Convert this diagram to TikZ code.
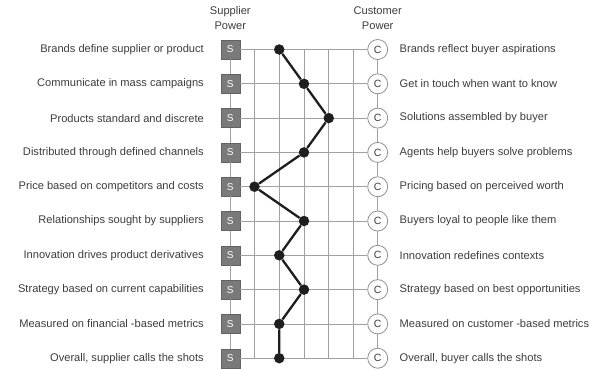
\documentclass[tikz,border=0pt]{standalone}
\usepackage{fontspec}
\setmainfont{Liberation Sans}
\definecolor{txt}{HTML}{3C3C3C}
\definecolor{gridc}{HTML}{A0A0A0}
\definecolor{sbox}{HTML}{7A7A7A}
\definecolor{dotc}{HTML}{1E1E1E}
\begin{document}
\begin{tikzpicture}[x=1pt,y=-1pt,
  lab/.style={inner sep=0pt,text=txt,font=\fontsize{11.1}{13}\selectfont},
  sn/.style={draw=sbox!80!black,fill=sbox,minimum size=19pt,inner sep=0pt,text=white,font=\fontsize{10}{11}\selectfont},
  cn/.style={circle,draw=gridc!90!black,fill=white,minimum size=20pt,inner sep=0pt,text=txt,font=\fontsize{10.5}{11}\selectfont,line width=0.8pt},
  dotn/.style={circle,fill=dotc,minimum size=10.5pt,inner sep=0pt},
  gridl/.style={draw=gridc,line width=0.8pt},
  path/.style={draw=dotc,line width=2.3pt}]
\useasboundingbox (0,0) rectangle (595,368);
\def\rowy#1{49.5+34.3*(#1-1)}
% headers
\node[lab,align=center] (hs) at (230.3,18.5) {Supplier\\[2pt]Power};
\node[lab,align=center] (hc) at (377.7,18.5) {Customer\\[2pt]Power};
% vertical grid lines
\foreach \k in {1,...,5}{
  \coordinate (vt\k) at ({254.5+24.75*(\k-1)},{\rowy{1}});
  \coordinate (vb\k) at ({254.5+24.75*(\k-1)},{\rowy{10}});
  \draw[gridl] (vt\k) -- (vb\k);
}
% S and C nodes
\foreach \i in {1,...,10}{
  \node[sn] (s\i) at (230.3,{\rowy{\i}}) {S};
  \node[cn] (c\i) at (377.7,{\rowy{\i}}) {C};
  \draw[gridl] (s\i.east) -- (c\i.west);
}
\foreach \i [evaluate=\i as \j using int(\i+1)] in {1,...,9}{
  \draw[gridl] (s\i.south) -- (s\j.north);
  \draw[gridl] (c\i.south) -- (c\j.north);
}
% labels
\foreach \i/\t in {1/Brands define supplier or product,
  2/Communicate in mass campaigns,
  3/Products standard and discrete,
  4/Distributed through defined channels,
  5/Price based on competitors and costs,
  6/Relationships sought by suppliers,
  7/Innovation drives product derivatives,
  8/Strategy based on current capabilities,
  9/Measured on financial -based metrics,
  10/{Overall, supplier calls the shots}}{
  \node[lab,anchor=east] (l\i) at (204,{\rowy{\i}}) {\t};
}
\foreach \i/\t in {1/Brands reflect buyer aspirations,
  2/Get in touch when want to know,
  3/Solutions assembled by buyer,
  4/Agents help buyers solve problems,
  5/Pricing based on perceived worth,
  6/Buyers loyal to people like them,
  7/Innovation redefines contexts,
  8/Strategy based on best opportunities,
  9/Measured on customer -based metrics,
  10/{Overall, buyer calls the shots}}{
  \node[lab,anchor=west] (r\i) at (399.5,{\rowy{\i}}) {\t};
}
% profile dots
\foreach \i/\k in {1/2,2/3,3/4,4/3,5/1,6/3,7/2,8/3,9/2,10/2}{
  \node[dotn] (d\i) at ({254.5+24.75*(\k-1)},{\rowy{\i}}) {};
}
\draw[path] (d1) -- (d2) -- (d3) -- (d4) -- (d5) -- (d6) -- (d7) -- (d8) -- (d9) -- (d10);
\end{tikzpicture}
\end{document}
